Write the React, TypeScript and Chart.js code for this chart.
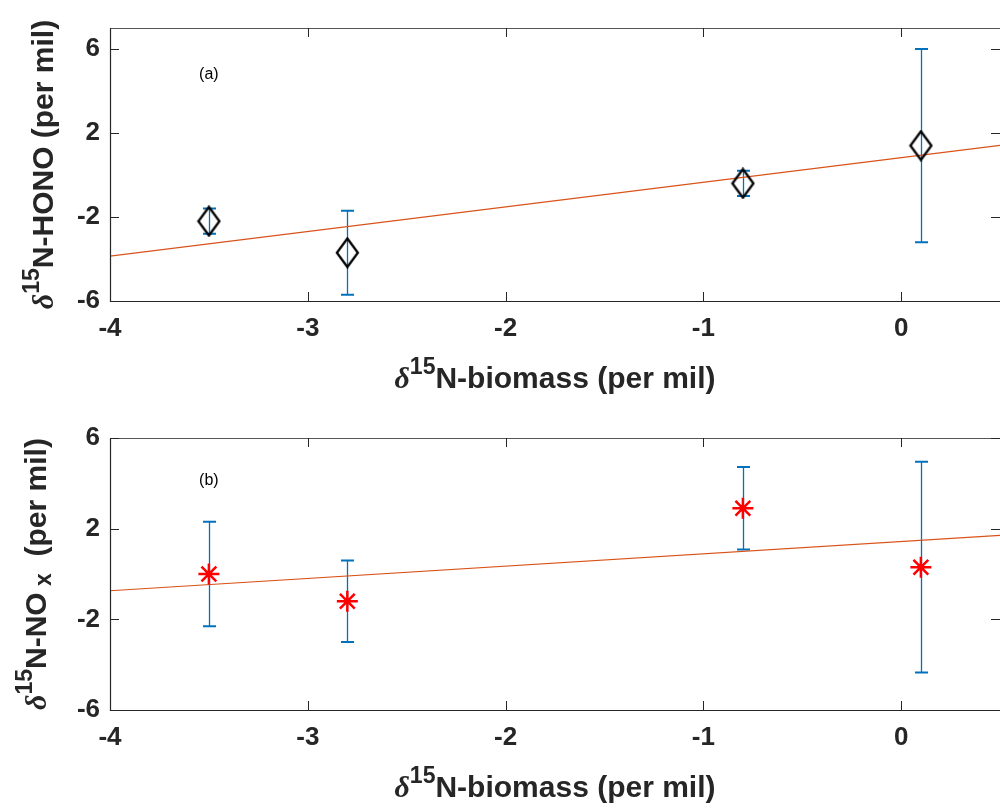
import React, { useEffect, useRef } from 'react';
import { Chart, registerables } from 'chart.js';

Chart.register(...registerables);

// ---- data ----
const biomassX = [-3.5, -2.8, -0.8, 0.1];
const honoY = [-2.2, -3.7, -0.4, 1.4];
const honoErr = [0.6, 2.0, 0.6, 4.6];
const noxY = [0.0, -1.2, 2.9, 0.3];
const noxErr = [2.3, 1.8, 1.82, 4.65];
const fitX = [-4, 0.5];
const honoFitY = [-3.86, 1.41];
const noxFitY = [-0.74, 1.7];
const xTicks = [-4, -3, -2, -1, 0];
const yTicks = [-6, -2, 2, 6];
const xRange = [-4, 0.5];
const honoRange = [-6, 7];
const noxRange = [-6, 6];

const SANS = "'Liberation Sans', Arial, Helvetica, sans-serif";
const TEXT = '#262626';

type Seg = { t: string; kind?: 'sup' | 'sub' | 'greek' };

const xTitle: Seg[] = [{ t: 'δ', kind: 'greek' }, { t: '15', kind: 'sup' }, { t: 'N-biomass (per mil)' }];
const honoTitle: Seg[] = [{ t: 'δ', kind: 'greek' }, { t: '15', kind: 'sup' }, { t: 'N-HONO (per mil)' }];
const noxTitle: Seg[] = [
  { t: 'δ', kind: 'greek' },
  { t: '15', kind: 'sup' },
  { t: 'N-NO' },
  { t: ' x', kind: 'sub' },
  { t: '  (per mil)' },
];

function segFont(s: Seg, base: number) {
  if (s.kind === 'greek') return `italic bold ${base}px 'Liberation Serif', serif`;
  if (s.kind === 'sup' || s.kind === 'sub') return `bold ${Math.round(base * 0.76)}px ${SANS}`;
  return `bold ${base}px ${SANS}`;
}

function drawRich(ctx: CanvasRenderingContext2D, segs: Seg[], cx: number, cy: number, base: number, rotate: boolean) {
  ctx.save();
  ctx.translate(cx, cy);
  if (rotate) ctx.rotate(-Math.PI / 2);
  let total = 0;
  const widths = segs.map((s) => {
    ctx.font = segFont(s, base);
    const w = ctx.measureText(s.t).width;
    total += w;
    return w;
  });
  let x = -total / 2;
  ctx.textBaseline = 'alphabetic';
  ctx.textAlign = 'left';
  ctx.fillStyle = TEXT;
  segs.forEach((s, i) => {
    ctx.font = segFont(s, base);
    let dy = 0;
    if (s.kind === 'sup') dy = -base * 0.48;
    if (s.kind === 'sub') dy = base * 0.18;
    ctx.fillText(s.t, x, dy);
    x += widths[i];
  });
  ctx.restore();
}

function makeDiamond(): HTMLCanvasElement {
  const w = 25, h = 32;
  const c = document.createElement('canvas');
  c.width = w;
  c.height = h;
  const g = c.getContext('2d')!;
  g.strokeStyle = '#000';
  g.lineWidth = 2.3;
  g.lineJoin = 'miter';
  g.beginPath();
  g.moveTo(w / 2, 1.7);
  g.lineTo(w - 2, h / 2);
  g.lineTo(w / 2, h - 1.7);
  g.lineTo(2, h / 2);
  g.closePath();
  g.stroke();
  return c;
}

type PanelCfg = {
  height: number;
  top: number;
  bottom: number;
  yVals: number[];
  yErr: number[];
  fitY: number[];
  yRange: number[];
  yTitle: Seg[];
  yTitleX: number;
  xTitleBaseline: number;
  label: string;
  labelPos: { x: number; y: number };
  pointStyle: any;
  pointColor: string;
  pointRadius: number;
  pointBorder: number;
};

function decorPlugin(cfg: PanelCfg) {
  return {
    id: 'decor',
    beforeDatasetsDraw(chart: any) {
      const { ctx, scales } = chart;
      const xs = scales.x, ys = scales.y;
      ctx.save();
      ctx.strokeStyle = '#0072BD';
      biomassX.forEach((xv, i) => {
        const px = Math.round(xs.getPixelForValue(xv)) + 0.5;
        const p1 = ys.getPixelForValue(cfg.yVals[i] + cfg.yErr[i]);
        const p2 = ys.getPixelForValue(cfg.yVals[i] - cfg.yErr[i]);
        ctx.lineWidth = 1.3;
        ctx.beginPath();
        ctx.moveTo(px, p1);
        ctx.lineTo(px, p2);
        ctx.stroke();
        ctx.lineWidth = 2;
        ctx.beginPath();
        ctx.moveTo(px - 6.5, p1);
        ctx.lineTo(px + 6.5, p1);
        ctx.moveTo(px - 6.5, p2);
        ctx.lineTo(px + 6.5, p2);
        ctx.stroke();
      });
      ctx.restore();
    },
    afterDraw(chart: any) {
      const { ctx, scales, chartArea } = chart;
      const xs = scales.x, ys = scales.y;
      const { left, right, top, bottom } = chartArea;
      ctx.save();
      // box (left and bottom axes, top edge; right edge falls at the canvas border)
      ctx.strokeStyle = TEXT;
      ctx.lineWidth = 1.2;
      ctx.beginPath();
      ctx.moveTo(left + 0.5, top + 0.5);
      ctx.lineTo(left + 0.5, bottom + 0.5);
      ctx.lineTo(right, bottom + 0.5);
      ctx.stroke();
      ctx.strokeStyle = '#555';
      ctx.lineWidth = 1;
      ctx.beginPath();
      ctx.moveTo(left, top + 0.5);
      ctx.lineTo(right, top + 0.5);
      ctx.stroke();
      // inward ticks
      ctx.strokeStyle = TEXT;
      ctx.lineWidth = 1;
      const tl = 9;
      ctx.beginPath();
      xTicks.forEach((v) => {
        const px = Math.round(xs.getPixelForValue(v)) + 0.5;
        ctx.moveTo(px, bottom);
        ctx.lineTo(px, bottom - tl);
        ctx.moveTo(px, top);
        ctx.lineTo(px, top + tl);
      });
      yTicks.forEach((v) => {
        const py = Math.round(ys.getPixelForValue(v)) + 0.5;
        ctx.moveTo(left, py);
        ctx.lineTo(left + tl, py);
        ctx.moveTo(right, py);
        ctx.lineTo(right - tl, py);
      });
      ctx.stroke();
      // axis titles
      drawRich(ctx, xTitle, (left + right) / 2, cfg.xTitleBaseline, 30, false);
      drawRich(ctx, cfg.yTitle, cfg.yTitleX, (top + bottom) / 2, 30, true);
      // panel label
      ctx.font = `16px ${SANS}`;
      ctx.fillStyle = '#000';
      ctx.textAlign = 'center';
      ctx.textBaseline = 'middle';
      ctx.fillText(cfg.label, xs.getPixelForValue(cfg.labelPos.x), ys.getPixelForValue(cfg.labelPos.y));
      ctx.restore();
    },
  };
}

function buildConfig(cfg: PanelCfg): any {
  const tickFont = { family: SANS, size: 26, weight: 'bold' as const };
  return {
    type: 'scatter',
    data: {
      datasets: [
        {
          type: 'line',
          data: fitX.map((x, i) => ({ x, y: cfg.fitY[i] })),
          borderColor: '#D95319',
          borderWidth: 1.2,
          pointRadius: 0,
          fill: false,
          order: 2,
        },
        {
          type: 'scatter',
          data: biomassX.map((x, i) => ({ x, y: cfg.yVals[i] })),
          pointStyle: cfg.pointStyle,
          pointRadius: cfg.pointRadius,
          borderColor: cfg.pointColor,
          backgroundColor: 'rgba(0,0,0,0)',
          borderWidth: cfg.pointBorder,
          order: 1,
        },
      ],
    },
    options: {
      animation: false,
      responsive: false,
      maintainAspectRatio: false,
      layout: { autoPadding: false, padding: { top: cfg.top, left: 0, right: 0, bottom: 0 } },
      plugins: { legend: { display: false }, tooltip: { enabled: false }, title: { display: false } },
      scales: {
        x: {
          type: 'linear',
          min: xRange[0],
          max: xRange[1],
          afterBuildTicks: (s: any) => {
            s.ticks = xTicks.map((v) => ({ value: v }));
          },
          afterFit: (s: any) => {
            s.height = cfg.height - cfg.bottom;
            s.paddingLeft = 0;
            s.paddingRight = 0;
          },
          grid: { display: false, drawTicks: false },
          border: { display: false },
          ticks: { font: tickFont, color: TEXT, padding: 12, maxRotation: 0, autoSkip: false },
        },
        y: {
          type: 'linear',
          min: cfg.yRange[0],
          max: cfg.yRange[1],
          afterBuildTicks: (s: any) => {
            s.ticks = yTicks.map((v) => ({ value: v }));
          },
          afterFit: (s: any) => {
            s.width = 110;
            s.paddingTop = 0;
            s.paddingBottom = 0;
          },
          grid: { display: false, drawTicks: false },
          border: { display: false },
          ticks: { font: tickFont, color: TEXT, padding: 10, autoSkip: false },
        },
      },
    },
    plugins: [decorPlugin(cfg)],
  };
}

export default function App() {
  const refA = useRef<HTMLCanvasElement>(null);
  const refB = useRef<HTMLCanvasElement>(null);

  useEffect(() => {
    const diamond = makeDiamond();
    const cfgA: PanelCfg = {
      height: 400,
      top: 28,
      bottom: 301,
      yVals: honoY,
      yErr: honoErr,
      fitY: honoFitY,
      yRange: honoRange,
      yTitle: honoTitle,
      yTitleX: 53,
      xTitleBaseline: 388,
      label: '(a)',
      labelPos: { x: -3.5, y: 4.8 },
      pointStyle: diamond,
      pointColor: '#000',
      pointRadius: 14,
      pointBorder: 2,
    };
    const cfgB: PanelCfg = {
      height: 410,
      top: 38,
      bottom: 310,
      yVals: noxY,
      yErr: noxErr,
      fitY: noxFitY,
      yRange: noxRange,
      yTitle: noxTitle,
      yTitleX: 46,
      xTitleBaseline: 397,
      label: '(b)',
      labelPos: { x: -3.5, y: 4.1 },
      pointStyle: 'star',
      pointColor: '#FF0000',
      pointRadius: 10.5,
      pointBorder: 2.5,
    };
    const a = new Chart(refA.current!, buildConfig(cfgA));
    const b = new Chart(refB.current!, buildConfig(cfgB));
    return () => {
      a.destroy();
      b.destroy();
    };
  }, []);

  return (
    <div style={{ position: 'absolute', left: 0, top: 0, width: 1000, height: 810, background: '#fff', overflow: 'hidden' }}>
      <canvas ref={refA} width={1000} height={400} style={{ position: 'absolute', left: 0, top: 0, width: 1000, height: 400 }} />
      <canvas ref={refB} width={1000} height={410} style={{ position: 'absolute', left: 0, top: 400, width: 1000, height: 410 }} />
    </div>
  );
}
